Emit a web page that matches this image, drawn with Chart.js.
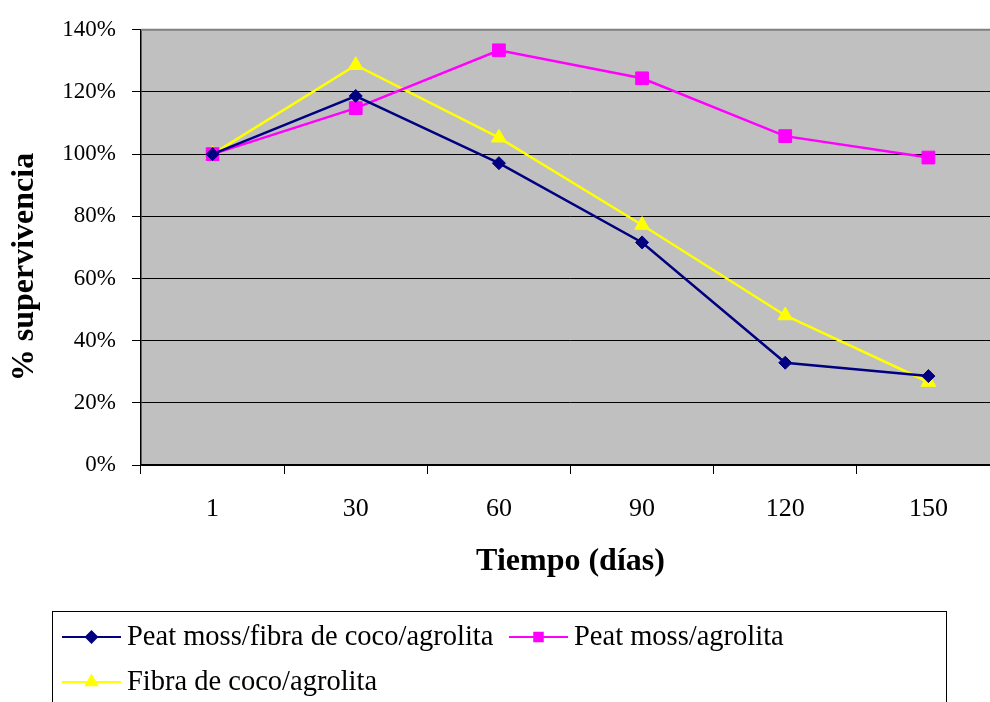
<!DOCTYPE html>
<html>
<head>
<meta charset="utf-8">
<script src="https://cdn.jsdelivr.net/npm/chart.js@4.4.1/dist/chart.umd.min.js"></script>
<style>
  html, body { margin: 0; padding: 0; background: #ffffff; overflow: hidden; width: 990px; height: 702px; }
  #wrap { position: absolute; left: 0; top: 0; width: 1010px; height: 760px; }
  canvas { display: block; }
</style>
</head>
<body>
<div id="wrap"><canvas id="grafica" width="1010" height="760" style="width:1010px;height:760px"></canvas></div>
<script>
// Días de evaluación
const dias = ['1', '30', '60', '90', '120', '150'];

// % de supervivencia por sustrato
const peatFibraAgrolita = [100, 118.7, 97.1, 71.6, 32.9, 28.6];
const peatAgrolita = [100, 114.8, 133.4, 124.4, 105.8, 98.9];
const fibraAgrolita = [100, 128.6, 105.3, 77.2, 48.1, 26.7];

const nombres = ['Peat moss/fibra de coco/agrolita', 'Peat moss/agrolita', 'Fibra de coco/agrolita'];
const tituloX = 'Tiempo (días)';
const tituloY = '% supervivencia';
const escalaY = { min: 0, max: 140, paso: 20 };

const FUENTE = "'Liberation Serif', 'Times New Roman', serif";

// Fondo gris del área de trazado, borde superior, título vertical y leyenda enmarcada
const marco = {
  id: 'marco',
  beforeDraw(chart) {
    const { ctx, chartArea: a } = chart;
    ctx.save();
    ctx.fillStyle = '#C0C0C0';
    ctx.fillRect(a.left, a.top, a.right - a.left, a.bottom - a.top);
    ctx.restore();
  },
  beforeDatasetsDraw(chart) {
    const { ctx, chartArea: a } = chart;
    ctx.save();
    ctx.strokeStyle = '#808080';
    ctx.lineWidth = 2;
    ctx.beginPath();
    ctx.moveTo(a.left, a.top);
    ctx.lineTo(a.right, a.top);
    ctx.stroke();
    ctx.restore();
  },
  afterDraw(chart) {
    const { ctx } = chart;
    ctx.save();
    // título del eje vertical
    ctx.translate(25, 267);
    ctx.rotate(-Math.PI / 2);
    ctx.fillStyle = '#000';
    ctx.font = 'bold 32px ' + FUENTE;
    ctx.textAlign = 'center';
    ctx.textBaseline = 'middle';
    ctx.fillText(tituloY, 0, 0);
    ctx.restore();

    // leyenda
    ctx.save();
    ctx.strokeStyle = '#000';
    ctx.lineWidth = 1;
    ctx.strokeRect(52.5, 611.5, 894, 200);
    const lugares = [
      { x: 62, y: 637 },
      { x: 509, y: 637 },
      { x: 62, y: 682 }
    ];
    const radios = [5.5, 6, 6.5];
    chart.data.datasets.forEach((ds, i) => {
      const p = lugares[i];
      ctx.strokeStyle = ds.borderColor;
      ctx.lineWidth = 2;
      ctx.beginPath();
      ctx.moveTo(p.x, p.y);
      ctx.lineTo(p.x + 59, p.y);
      ctx.stroke();
      ctx.fillStyle = ds.pointBackgroundColor;
      ctx.strokeStyle = ds.pointBorderColor;
      Chart.helpers.drawPoint(ctx, { pointStyle: ds.pointStyle, radius: radios[i], rotation: 0, borderWidth: 1 }, p.x + 29.5, p.y);
      ctx.fillStyle = '#000';
      ctx.font = '28.5px ' + FUENTE;
      ctx.textAlign = 'left';
      ctx.textBaseline = 'middle';
      ctx.fillText(ds.label, p.x + 65, p.y + 1);
    });
    ctx.restore();
  }
};

const serie = (label, data, color, estilo, radio) => ({
  label,
  data,
  borderColor: color,
  backgroundColor: color,
  pointBackgroundColor: color,
  pointBorderColor: color,
  pointStyle: estilo,
  pointRadius: radio,
  pointHoverRadius: radio,
  pointBorderWidth: 1,
  borderWidth: 2.5,
  tension: 0,
  fill: false
});

new Chart(document.getElementById('grafica'), {
  type: 'line',
  data: {
    labels: dias,
    datasets: [
      serie(nombres[0], peatFibraAgrolita, '#000080', 'rectRot', 6.5),
      serie(nombres[1], peatAgrolita, '#FF00FF', 'rect', 9),
      serie(nombres[2], fibraAgrolita, '#FFFF00', 'triangle', 8.5)
    ]
  },
  options: {
    responsive: false,
    animation: false,
    devicePixelRatio: 1,
    layout: { padding: { left: 0, top: 29, right: 9, bottom: 179 } },
    plugins: {
      legend: { display: false },
      tooltip: { enabled: false }
    },
    scales: {
      x: {
        type: 'category',
        offset: true,
        grid: {
          offset: true,
          drawOnChartArea: false,
          drawTicks: true,
          tickLength: 9,
          color: '#000',
          lineWidth: 1
        },
        border: { color: '#000', width: 1.5 },
        ticks: {
          color: '#000',
          font: { family: FUENTE, size: 26 },
          padding: 20,
          maxRotation: 0,
          autoSkip: false
        },
        title: {
          display: true,
          text: tituloX,
          color: '#000',
          font: { family: FUENTE, size: 32, weight: 'bold', lineHeight: 1.2 },
          padding: { top: 0, bottom: 0 }
        },
        afterFit(s) { s.height = 116; }
      },
      y: {
        min: escalaY.min,
        max: escalaY.max,
        grid: {
          color: '#000',
          lineWidth: 1,
          drawTicks: true,
          tickLength: 9
        },
        border: { color: '#000', width: 1.5 },
        ticks: {
          stepSize: escalaY.paso,
          color: '#000',
          font: { family: FUENTE, size: 23 },
          padding: 16,
          callback: v => v + '%'
        },
        afterFit(s) { s.width = 141; }
      }
    }
  },
  plugins: [marco]
});
</script>
</body>
</html>
